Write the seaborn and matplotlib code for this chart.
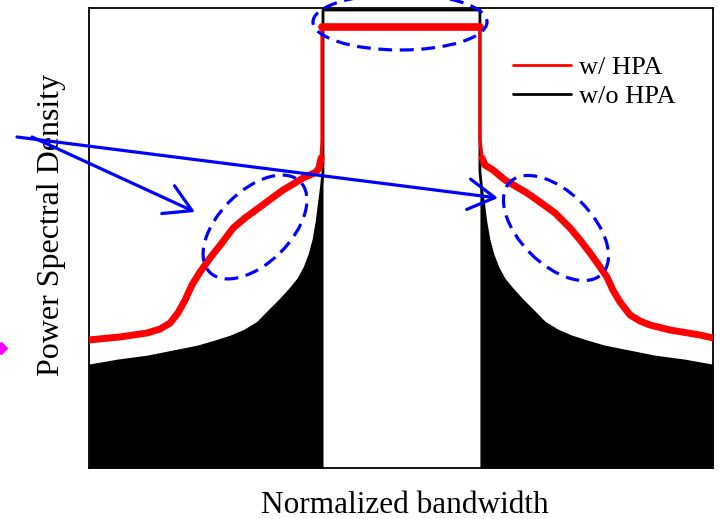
import matplotlib
matplotlib.use("Agg")
import matplotlib.pyplot as plt
import seaborn as sns
import pandas as pd
from matplotlib.patches import Ellipse, FancyArrowPatch
from matplotlib.lines import Line2D
from matplotlib.transforms import IdentityTransform

# ---- data (normalized bandwidth, PSD in dB) ----
red_x = [-1.0, -0.901, -0.814, -0.772, -0.740, -0.715, -0.692, -0.670, -0.644, -0.612,
         -0.574, -0.538, -0.500, -0.452, -0.413, -0.378, -0.340, -0.314, -0.292, -0.272,
         -0.263, -0.256, -0.253, -0.253, 0.253, 0.253, 0.260, 0.269, 0.295, 0.333,
         0.404, 0.436, 0.494, 0.542, 0.574, 0.606, 0.638, 0.660, 0.679, 0.702,
         0.734, 0.766, 0.798, 0.862, 0.958, 1.0]
red_y = [-43.30, -42.91, -42.39, -41.87, -41.09, -39.78, -38.09, -36.13, -34.43, -32.61,
         -30.65, -28.70, -27.39, -25.96, -24.78, -23.74, -22.83, -22.17, -21.78, -21.39,
         -20.87, -19.57, -17.22, -2.48, -2.48, -17.22, -19.57, -20.48, -21.13, -22.43,
         -24.13, -25.04, -26.74, -28.70, -30.26, -31.96, -33.78, -35.09, -36.78, -38.35,
         -40.04, -40.83, -41.35, -42.00, -42.65, -43.04]

blk_x = [-1.0, -0.907, -0.811, -0.731, -0.651, -0.596, -0.545, -0.500, -0.458, -0.417,
         -0.385, -0.353, -0.327, -0.308, -0.292, -0.279, -0.269, -0.263, -0.256, -0.250,
         -0.250, 0.253, 0.253, 0.259, 0.266, 0.272, 0.282, 0.295, 0.311, 0.330, 0.356,
         0.388, 0.420, 0.461, 0.503, 0.548, 0.599, 0.654, 0.734, 0.814, 0.910, 1.0]
blk_y = [-46.70, -46.04, -45.52, -44.87, -44.22, -43.57, -42.91, -42.13, -41.09, -39.39,
         -38.09, -36.65, -35.35, -33.91, -32.22, -30.26, -27.91, -25.96, -23.74, -21.39,
         -0.26, -0.26, -21.39, -23.74, -25.96, -27.91, -30.26, -32.22, -33.91, -35.35,
         -36.65, -38.09, -39.39, -41.09, -42.13, -42.91, -43.57, -44.22, -44.87, -45.52,
         -46.04, -46.70]

series_labels = ["w/ HPA", "w/o HPA"]
x_label = "Normalized bandwidth"
y_label = "Power Spectral Density"

W, H = 722, 519
fig = plt.figure(figsize=(W / 100, H / 100), dpi=100)
sns.set_theme(style="white")
plt.rcParams["font.family"] = ["Liberation Serif", "DejaVu Serif"]
plt.rcParams["text.color"] = "black"

ax = fig.add_axes([89 / W, (H - 468) / H, 624 / W, 460 / H])
ax.set_facecolor("white")

red_df = pd.DataFrame({"x": red_x, "y": red_y})
blk_df = pd.DataFrame({"x": blk_x, "y": blk_y})

# black filled side lobes (w/o HPA spectrum)
left = blk_df[(blk_df.x < 0)].iloc[:-1]
right = blk_df[(blk_df.x > 0)].iloc[1:]
ax.fill_between(left.x, -60, left.y, color="black", lw=0, zorder=1)
ax.fill_between(right.x, -60, right.y, color="black", lw=0, zorder=1)

sns.lineplot(data=blk_df, x="x", y="y", sort=False, estimator=None,
             color="black", lw=2.0, ax=ax, zorder=2)

# red (w/ HPA): thin full trace, thicker band on tails and plateau
sns.lineplot(data=red_df, x="x", y="y", sort=False, estimator=None,
             color="red", lw=2.4, ax=ax, zorder=3)
tail_l = red_df[red_df.x <= -0.256]
tail_r = red_df[red_df.x >= 0.260]
plat = red_df[red_df.y == red_df.y.max()]
for part, w in [(tail_l, 5.0), (tail_r, 5.0), (plat, 5.5)]:
    sns.lineplot(data=part, x="x", y="y", sort=False, estimator=None,
                 color="red", lw=w, ax=ax, zorder=3)

ax.set_xlim(-1.0, 1.0)
ax.set_ylim(-60, 0)
ax.set_xticks([])
ax.set_yticks([])
ax.set_xlabel("")
ax.set_ylabel("")
for s in ax.spines.values():
    s.set_color("black")
    s.set_linewidth(1.3)
    s.set_visible(True)

handles = [Line2D([], [], color="red", lw=2.0), Line2D([], [], color="black", lw=2.0)]
leg = ax.legend(handles, series_labels, loc="upper left",
                bbox_to_anchor=(513 / W, 1 - 56 / H), bbox_transform=fig.transFigure,
                frameon=False, fontsize=19, handlelength=2.2, handletextpad=0.3,
                labelspacing=0.2, borderpad=0, borderaxespad=0)
for t in leg.get_texts():
    t.set_color("black")

fig.text(405, H - 513, x_label, transform=IdentityTransform(), ha="center",
         va="baseline", fontsize=22.5, color="black")
fig.text(51, H - 225, y_label, transform=IdentityTransform(), ha="center",
         va="center", rotation=90, fontsize=23, color="black")

# blue annotations (figure pixel positions, y measured from top)
def P(x, y):
    return (x, H - y)

blue = "#0000ff"
for start, end in [((32, 137), (195, 212)), ((17, 137), (498, 198))]:
    arr = FancyArrowPatch(P(*start), P(*end), transform=IdentityTransform(),
                          arrowstyle="->,head_length=0.95,head_width=0.55",
                          mutation_scale=20, color=blue, lw=2.3,
                          shrinkA=0, shrinkB=0, zorder=10)
    fig.add_artist(arr)

for (cx, cy, w, h, ang) in [(255, 227, 128, 72, 45), (556, 228, 130, 72, -45),
                            (400, 22, 174, 56, 0)]:
    e = Ellipse(P(cx, cy), w, h, angle=ang, transform=IdentityTransform(),
                fill=False, edgecolor=blue, lw=2.3, linestyle=(0, (4.3, 2.4)),
                zorder=10)
    fig.add_artist(e)

fig.add_artist(Line2D([1], [H - 348], transform=IdentityTransform(), marker="D",
                      color="magenta", ms=6, lw=0))

fig.savefig("out.png", dpi=100)
